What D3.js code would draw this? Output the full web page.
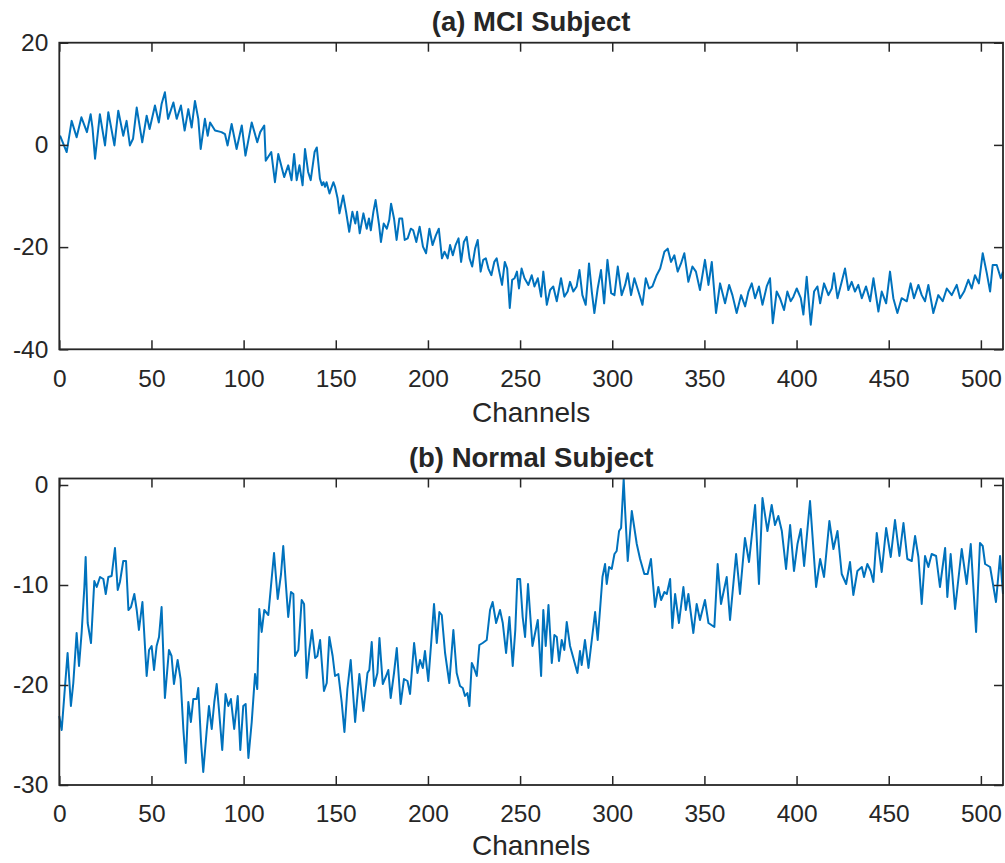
<!DOCTYPE html>
<html>
<head>
<meta charset="utf-8">
<script src="https://cdn.jsdelivr.net/npm/d3@7"></script>
<style>
  html, body { margin: 0; padding: 0; background: #fff; }
  svg { display: block; }
  text { font-family: "Liberation Sans", Arial, Helvetica, sans-serif; fill: #262626; }
</style>
</head>
<body>
<div id="chart"></div>
<script>
// channel positions and amplitudes (peaks and troughs)
const chanA = [0.4,4,6.7,9.4,12,15,17,18,19.4,22,24.8,26.6,29.9,32,34.7,36.5,38.3,40,42,45,47.4,49,51.9,54,55.5,57.3,59,61.9,63.7,66,68,70,71.8,73.6,75.4,76.7,79,80.5,81.8,84.5,88,89.9,91.3,93.5,96.2,99,101,104.4,107.4,109,111.2,112,115,117,118.8,122,124.2,126,127.4,128.8,130.3,132,133.3,135,136.4,138.5,139.7,141.4,142.5,143.3,144.2,145,146.6,148.7,149.6,151,152,154,155.6,157.3,159,160.6,161.6,163,165,166.8,168,169,170.4,171.6,173.5,174.5,176,177.7,179,180,181.6,183,184.5,186,187.4,189,190.7,192,193.7,195.5,197.3,199,200.8,202.5,204.3,205.9,207.6,209,210.7,212,213.5,215,216.6,218,219.5,221,222.6,224,225.6,227,228.6,230,231.4,232.8,234.4,236,237.3,238.7,240.2,241.7,243,244.4,245.7,247,248.3,249.4,250.8,252.4,254.5,256.3,257.8,259.6,261.4,262.6,264.5,266.3,268,269.9,272.2,274,275.8,277.1,278.9,280.7,282.2,283.8,285.6,287.4,288.9,290.3,292.1,293.9,295.6,297.4,299.4,301.2,303,305.1,307,308.4,310.2,312,314.2,316.4,318.2,320,321.8,324.1,326,328.3,330.1,331.9,333.7,335.5,337.3,339.1,341.3,343.5,345.4,347.6,350.3,352.2,354,356.3,358.5,361.2,363.4,365.2,367.5,369.9,372.1,373.9,375.7,377.5,379.6,381.5,383.8,385.6,387.1,389.2,391,393.2,395,396.8,398.3,400.1,402.3,403.7,405.5,407.7,409.5,411.3,412.8,414.9,417.3,419.1,420.3,422.2,424.5,426.3,428.1,429.9,431.7,433.5,435.4,437.7,439.9,441.7,444.4,446.2,448.6,450.7,452.5,454.7,457,459.8,461.9,463.7,466.1,467.9,469.7,471.5,474.2,476.9,479.3,481.5,484.2,486.9,488.7,490.9,493.2,495,496.8,498.9,501,503.2,505,506.4,508.6,510.8,512];
const valA = [1.8,-1.4,4.7,1.5,5.4,2.5,6.0,3.4,-2.7,6.0,-0.1,6.4,-0.1,6.7,1.8,4.7,-0.1,1.2,7.3,0.5,5.7,3.1,7.7,4.4,8.0,10.3,5.1,8.3,5.1,7.7,2.8,7.0,3.4,8.6,5.1,-0.8,5.1,1.8,4.4,2.8,2.5,2.1,-0.1,4.1,-0.8,3.8,-2.1,4.4,0.5,2.5,3.8,-3.1,-1.4,-7.3,-1.8,-6.3,-4.0,-6.9,-1.8,-6.9,-4.0,-7.9,-0.8,-5.3,-6.9,-1.4,-0.5,-6.6,-7.9,-7.3,-8.2,-7.3,-9.5,-7.3,-8.2,-10.5,-13.4,-9.9,-13.1,-17.0,-13.1,-15.4,-13.1,-17.3,-13.4,-16.4,-14.4,-16.7,-13.1,-10.8,-15.7,-19.0,-15.4,-16.4,-14.7,-11.5,-14.4,-18.6,-14.4,-14.4,-18.6,-18.3,-16.4,-16.7,-19.0,-16.0,-19.9,-21.2,-16.4,-19.6,-17.7,-16.4,-22.2,-20.9,-22.2,-19.6,-21.6,-19.6,-18.3,-22.9,-19.0,-18.0,-22.2,-23.8,-20.3,-18.6,-24.8,-22.5,-22.2,-24.2,-25.5,-22.9,-22.2,-24.8,-27.4,-22.9,-24.2,-31.9,-26.4,-26.1,-24.8,-28.1,-24.2,-26.1,-27.4,-25.5,-27.7,-26.1,-29.7,-24.8,-31.3,-28.4,-27.7,-30.6,-26.1,-29.7,-28.7,-26.8,-28.7,-27.7,-24.5,-29.4,-31.3,-23.2,-28.7,-32.9,-28.1,-24.5,-31.0,-22.5,-29.0,-29.4,-23.8,-29.4,-27.4,-25.1,-29.4,-26.1,-28.7,-31.3,-26.1,-28.1,-27.7,-25.5,-24.2,-20.9,-20.3,-22.9,-21.6,-24.8,-23.2,-21.2,-26.8,-23.8,-24.8,-28.4,-22.5,-27.4,-22.9,-32.9,-27.1,-31.0,-27.4,-29.4,-32.9,-29.4,-31.6,-28.7,-27.1,-30.0,-27.7,-31.3,-27.7,-26.1,-34.9,-28.7,-30.0,-32.3,-28.7,-30.6,-29.7,-28.1,-30.0,-33.2,-25.8,-35.2,-28.7,-27.7,-31.0,-27.1,-29.4,-28.1,-25.1,-30.0,-26.8,-24.2,-28.4,-26.8,-28.7,-27.4,-30.0,-27.7,-30.6,-26.1,-32.6,-28.7,-31.0,-24.8,-30.0,-32.9,-30.0,-30.6,-27.1,-30.0,-27.4,-29.4,-30.6,-27.4,-32.9,-29.4,-30.6,-28.1,-29.4,-27.4,-30.0,-28.7,-26.4,-28.1,-25.5,-27.1,-21.2,-25.1,-28.7,-23.5,-23.5,-26.1,-24.8];

const chanB = [0,1.3,2.7,4.5,6.3,7.6,9.4,10.7,12.1,13.6,14.3,15.4,17.2,19,20.3,22.1,23.9,25.2,26.6,28.4,30.2,31.7,32.9,34.7,36.2,37.5,38.9,40.7,42,43.2,45.1,47.4,48.7,50.1,51.4,52.8,54.1,55.5,57.3,59.5,60.9,62.2,64.2,65.8,67.3,68.6,70,71.4,72.7,74.5,75.4,76.9,78.1,79.9,81.2,82.7,84.1,85.4,86.6,88.4,90.2,91.7,93.1,94.9,96.8,98.2,99.8,101.1,102.6,104.4,106.2,107.4,108.5,109.8,111.2,113.4,114.8,116.5,118.5,120.3,121.5,122.8,124.2,125.7,127,127.9,129.7,131.5,132.8,134.2,135.7,137.1,138.8,140,141.5,143.6,145.1,146.5,148.3,149.6,151.4,153.2,154.7,156.3,158.1,160.5,162.8,165,167.2,168.2,169.5,170.8,172.6,173.7,175.5,177.3,178.5,179.8,181.6,183.1,185.2,187,188.9,190.3,192.5,194.3,195.7,197.2,198.4,200.2,202,203.3,204.8,206.2,207.5,209.3,211.6,213.8,215.6,217.4,218.9,220.1,221.4,222.5,223.8,225,226.5,227.9,229.7,231.9,233.7,235.1,237,239.1,240.6,242.4,244.2,246,247.4,248.5,250,251.4,252.7,254.3,256.7,259.6,261.4,262.6,263.9,265.4,267.2,268.6,269.9,271.1,272.6,274,275.3,277.1,278.9,281.1,282.5,283.4,285.2,287.1,288.9,290.7,292.1,293.4,294.7,296.1,297,298.3,299.7,301.2,302.4,303.7,304.8,306.2,307,308.4,310.6,313.3,315.1,317.4,319.2,321,323.2,325,326.5,328.3,329.6,331.4,332.6,334.1,336.2,338.6,339.9,341.3,344,345.8,347.6,350.3,352.2,355.4,357.2,359,362.1,363.9,367.2,369.3,372,374.2,377.5,379.6,381.5,384.2,386.5,388.3,390.1,392,394.3,396.5,398.6,400.5,402.3,404.1,407.3,410.6,412.8,414.9,417.8,420,422.2,424.5,426.9,429,430.8,433,435.4,436.6,438.4,440.2,441.7,443.5,446.2,448.6,451.1,453.4,455.8,458,460.1,462.5,464.3,466.1,467.9,469.7,471.5,473.3,475.7,477.8,480.6,481.8,483.6,486,489.6,492.3,494.5,497.4,499.5,501,502.3,505,508.2,510.4,512];
const valB = [-23.1,-24.5,-21.1,-16.8,-22.1,-19.8,-14.8,-18.1,-14.8,-10.2,-7.2,-13.8,-15.8,-9.6,-10.2,-9.2,-9.4,-10.9,-9.2,-9.1,-6.3,-10.5,-9.7,-7.6,-7.6,-12.5,-12.2,-10.9,-12.5,-14.5,-11.7,-19.1,-16.5,-16.1,-18.5,-16.1,-15.2,-12.2,-21.3,-16.5,-17.1,-19.9,-17.5,-19.4,-24.4,-27.8,-21.7,-23.7,-21.4,-21.4,-20.3,-25.7,-28.7,-24.7,-22.1,-24.4,-21.7,-19.9,-22.4,-26.5,-20.9,-22.1,-21.4,-24.4,-21.1,-26.5,-22.1,-21.9,-27.3,-23.7,-18.9,-20.4,-12.4,-14.7,-12.5,-13.0,-10.2,-6.8,-11.4,-8.9,-6.1,-9.6,-13.2,-10.7,-10.9,-17.1,-16.5,-11.5,-11.9,-19.3,-16.5,-14.5,-17.3,-17.1,-15.5,-20.6,-19.8,-15.2,-17.1,-19.1,-18.9,-21.7,-24.7,-20.4,-17.5,-23.7,-18.9,-22.6,-18.8,-18.5,-15.7,-20.1,-18.8,-15.3,-19.9,-19.1,-18.5,-21.3,-18.8,-16.3,-21.9,-19.4,-19.6,-20.9,-15.8,-18.8,-17.5,-18.3,-16.6,-19.6,-15.2,-11.9,-15.8,-12.7,-13.0,-16.8,-19.8,-14.5,-18.8,-20.1,-20.3,-21.1,-20.8,-22.1,-17.8,-18.3,-19.1,-16.0,-15.8,-15.5,-12.5,-11.7,-13.8,-12.5,-13.8,-16.8,-13.2,-18.1,-14.5,-9.4,-9.4,-13.2,-15.2,-9.9,-16.1,-13.5,-19.1,-12.5,-16.1,-12.0,-17.8,-15.0,-15.2,-17.6,-15.5,-16.5,-13.7,-16.1,-17.3,-18.8,-16.6,-18.0,-15.5,-18.3,-15.5,-12.7,-15.5,-12.4,-9.2,-7.9,-9.9,-8.2,-8.4,-6.9,-6.6,-4.6,-4.3,0.6,-2.6,-7.6,-2.6,-5.9,-7.4,-8.9,-8.9,-7.4,-12.2,-10.2,-11.5,-10.7,-10.9,-9.4,-14.3,-10.9,-13.8,-10.2,-12.5,-10.9,-14.8,-11.9,-13.5,-11.5,-13.8,-14.2,-7.9,-11.9,-9.2,-13.5,-6.9,-10.9,-5.3,-7.7,-2.0,-9.9,-1.3,-4.6,-2.0,-4.0,-3.1,-4.6,-8.4,-4.0,-8.6,-5.9,-4.4,-8.1,-1.6,-10.2,-7.4,-9.2,-3.6,-6.4,-4.6,-8.9,-9.9,-7.7,-11.0,-8.6,-8.2,-9.2,-7.9,-8.6,-9.7,-4.8,-8.7,-4.3,-7.2,-3.5,-7.1,-3.8,-7.4,-7.6,-5.1,-7.2,-11.9,-7.1,-8.2,-6.9,-7.1,-10.2,-6.3,-11.2,-6.9,-12.4,-6.4,-9.9,-5.9,-14.7,-5.8,-6.1,-7.9,-8.2,-11.7,-7.1,-10.9];

const xTicks = [0, 50, 100, 150, 200, 250, 300, 350, 400, 450, 500];
const yTicksA = [-40, -20, 0, 20];
const yTicksB = [-30, -20, -10, 0];
const titles = ["(a) MCI Subject", "(b) Normal Subject"];
const xLabel = "Channels";

const W = 1005, H = 863;
const ink = "#262626";
const lineColor = "#0072BD";

const svg = d3.select("#chart").append("svg")
    .attr("width", W)
    .attr("height", H);

function panel(top, bottom, yDomain, yTicks, chans, vals, title, labelGap) {
    const x = d3.scaleLinear().domain([0, 512]).range([59.3, 1003]);
    const y = d3.scaleLinear().domain(yDomain).range([bottom, top]);
    const g = svg.append("g");
    const pts = chans.map((c, i) => [c, vals[i]]);

    g.append("path")
        .datum(pts)
        .attr("fill", "none")
        .attr("stroke", lineColor)
        .attr("stroke-width", 2)
        .attr("stroke-linejoin", "round")
        .attr("d", d3.line().x(d => x(d[0])).y(d => y(d[1])));

    const fmt = d => String(d);
    const tk = 9;

    const bx = g.append("g").attr("transform", `translate(0,${bottom})`)
        .call(d3.axisBottom(x).tickValues(xTicks).tickSize(-tk).tickSizeOuter(0).tickPadding(20).tickFormat(fmt));
    const tx = g.append("g").attr("transform", `translate(0,${top})`)
        .call(d3.axisTop(x).tickValues(xTicks).tickSize(-tk).tickSizeOuter(0).tickFormat(""));
    const ly = g.append("g").attr("transform", `translate(59.3,0)`)
        .call(d3.axisLeft(y).tickValues(yTicks).tickSize(-tk).tickSizeOuter(0).tickPadding(11).tickFormat(fmt));
    const ry = g.append("g").attr("transform", `translate(1003,0)`)
        .call(d3.axisRight(y).tickValues(yTicks).tickSize(-tk).tickSizeOuter(0).tickFormat(""));

    [bx, tx, ly, ry].forEach(a => {
        a.select(".domain").remove();
        a.selectAll("line").attr("stroke", ink).attr("stroke-width", 1.5);
        a.selectAll("text").attr("fill", ink).style("font-size", "24.5px")
            .style("font-family", '"Liberation Sans", Arial, Helvetica, sans-serif');
    });

    g.append("rect")
        .attr("x", 59.3).attr("y", top)
        .attr("width", 1003 - 59.3).attr("height", bottom - top)
        .attr("fill", "none").attr("stroke", ink).attr("stroke-width", 1.8);

    g.append("text")
        .attr("x", (59.3 + 1003) / 2).attr("y", top - 12)
        .attr("text-anchor", "middle")
        .style("font-size", "27.5px").style("font-weight", "bold")
        .text(title);

    g.append("text")
        .attr("x", (59.3 + 1003) / 2).attr("y", bottom + labelGap)
        .attr("text-anchor", "middle")
        .style("font-size", "28px")
        .text(xLabel);
}

panel(42.7, 349.3, [-40, 20], yTicksA, chanA, valA, titles[0], 73);
panel(478.5, 785, [-30, 0.65], yTicksB, chanB, valB, titles[1], 70);
</script>
</body>
</html>
